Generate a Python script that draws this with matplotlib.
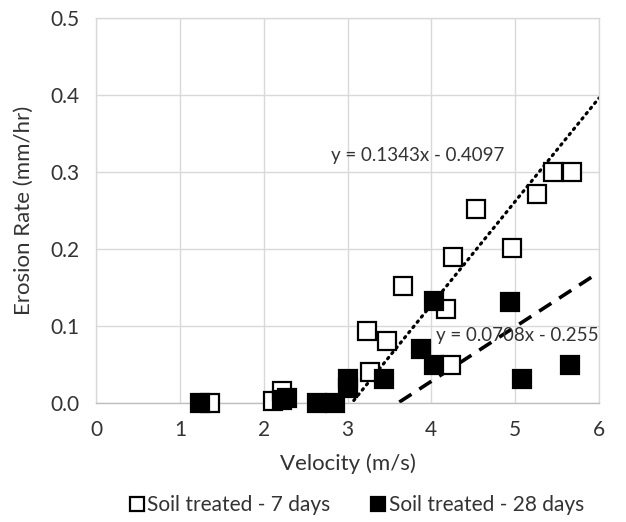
import matplotlib
matplotlib.use("Agg")
import matplotlib.pyplot as plt
import numpy as np

plt.rcParams['font.family'] = ['Lato', 'DejaVu Sans']

# Data
vel_7 = [1.36, 2.11, 2.22, 3.27, 3.23, 3.47, 3.66, 4.18, 4.26, 4.24, 4.53, 4.96, 5.26, 5.45, 5.68]
er_7 = [0.0, 0.003, 0.016, 0.04, 0.094, 0.08, 0.152, 0.122, 0.19, 0.05, 0.252, 0.201, 0.271, 0.30, 0.30]
vel_28 = [1.24, 2.22, 2.28, 2.64, 2.85, 3.0, 3.0, 3.44, 3.88, 4.03, 4.03, 4.94, 5.08, 5.66]
er_28 = [0.0, 0.004, 0.006, 0.0, 0.0, 0.031, 0.02, 0.031, 0.07, 0.132, 0.05, 0.131, 0.031, 0.05]
fit_7 = (0.1343, -0.4097)
fit_28 = (0.0708, -0.255)
label_7 = "Soil treated - 7 days"
label_28 = "Soil treated - 28 days"
xticks = [0, 1, 2, 3, 4, 5, 6]
yticks = [0.0, 0.1, 0.2, 0.3, 0.4, 0.5]

fig = plt.figure(figsize=(6.26, 5.22), dpi=100)
ax = fig.add_axes([96/626, 1-403/522, (599-96)/626, (403-18)/522])

grid_c = '#d9d9d9'
txt_c = '#333333'
ax.set_xlim(0, 6)
ax.set_ylim(0, 0.5)
ax.set_xticks(xticks)
ax.set_yticks(yticks)
ax.set_xticklabels([str(t) for t in xticks])
ax.set_yticklabels([f"{t:.1f}" for t in yticks])
ax.grid(True, color=grid_c, linewidth=1.0)
ax.set_axisbelow(True)
for s in ax.spines.values():
    s.set_color(grid_c)
    s.set_linewidth(1.0)
ax.spines['bottom'].set_color('#bfbfbf')
ax.tick_params(length=0, labelsize=15, colors=txt_c, pad=12)

# trendlines
xs = np.linspace(0, 6, 200)
y7 = fit_7[0]*xs + fit_7[1]
m7 = y7 >= 0
ax.plot(xs[m7], y7[m7], linestyle=(0, (0.5, 1.6)), color='black', linewidth=2.3, dash_capstyle='round', zorder=2)
y28 = fit_28[0]*xs + fit_28[1]
m28 = y28 >= 0
ax.plot(xs[m28], y28[m28], linestyle=(0, (4, 2.6)), color='black', linewidth=2.6, zorder=2)

ax.plot(vel_7, er_7, linestyle='none', marker='s', markersize=13, markerfacecolor='white',
        markeredgecolor='black', markeredgewidth=1.6, clip_on=False, zorder=3, label=label_7)
ax.plot(vel_28, er_28, linestyle='none', marker='s', markersize=13, markerfacecolor='black',
        markeredgecolor='black', markeredgewidth=1.6, clip_on=False, zorder=4, label=label_28)

ax.text(3.84, 0.322, f"y = {fit_7[0]}x - {abs(fit_7[1])}", fontsize=13.5, color=txt_c, ha='center', va='center', zorder=5)
ax.text(5.02, 0.088, f"y = {fit_28[0]}x - {abs(fit_28[1])}", fontsize=13.5, color=txt_c, ha='center', va='center', zorder=5)

ax.set_xlabel("Velocity (m/s)", fontsize=16, color=txt_c, labelpad=10)
ax.set_ylabel("Erosion Rate (mm/hr)", fontsize=16, color=txt_c, labelpad=12)

leg = fig.legend(loc='center', bbox_to_anchor=(357/626, 1-505/522), ncol=2, frameon=False,
                 fontsize=15, handlelength=0.6, handletextpad=0.2, columnspacing=2.0, markerscale=0.75)
for t in leg.get_texts():
    t.set_color(txt_c)

fig.savefig("out.png", dpi=100)
